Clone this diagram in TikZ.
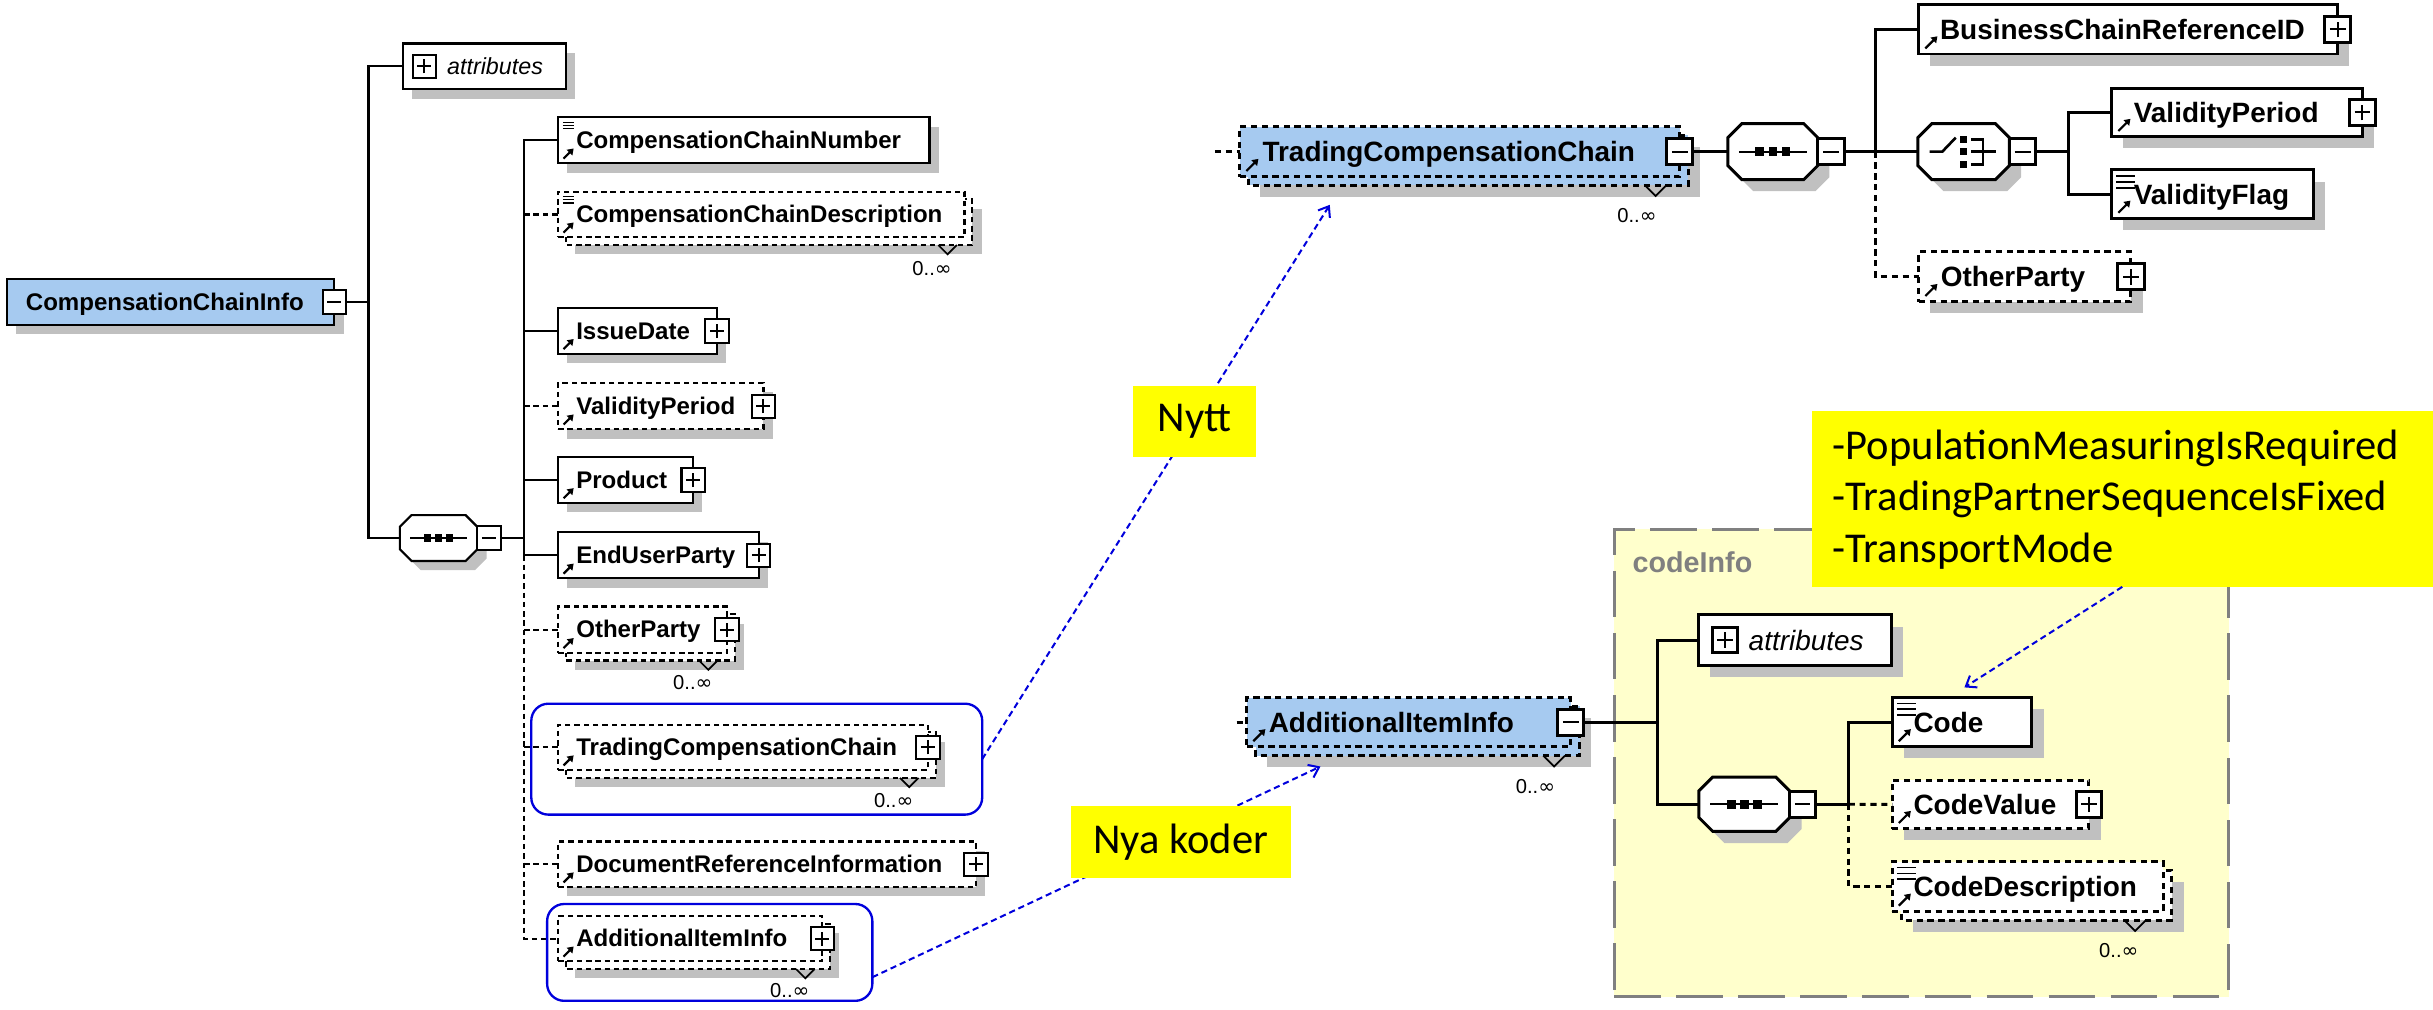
\documentclass[tikz,border=0pt]{standalone}
\usepackage{fontspec}
\setmainfont{Liberation Sans}
\newfontfamily\calib{Carlito}
\newfontfamily\djv{DejaVu Sans}
\usetikzlibrary{arrows.meta}
\definecolor{selblue}{RGB}{166,202,240}
\definecolor{shadowc}{RGB}{192,192,192}
\definecolor{codebg}{RGB}{255,255,204}
\definecolor{codeborder}{RGB}{128,128,128}
\definecolor{noteblue}{RGB}{0,0,220}
\definecolor{noteyellow}{RGB}{255,255,0}
\def\XSh{6}
\newcommand{\XEl}[7]{%
  \ifdim #7pt>0pt
    \fill[shadowc] ({#2+#7+\XSh},{#3+#7+\XSh}) rectangle ({#4+#7+\XSh},{#5+#7+\XSh});
    \path[#6] ({#2+#7},{#3+#7}) rectangle ({#4+#7},{#5+#7});
  \else
    \fill[shadowc] ({#2+\XSh},{#3+\XSh}) rectangle ({#4+\XSh},{#5+\XSh});
  \fi
  \node[#6, elnode, minimum width={(#4-#2)*1pt}, minimum height={(#5-#3)*1pt}, anchor=north west] (#1) at (#2,#3) {};}
\newcommand{\XTx}[5]{\node[#3, anchor=base west, inner sep=0pt] (#1-t) at ([xshift=#2pt,yshift={-(#5)*1pt}]#1.west) {#4};}
\newcommand{\XRef}[2]{\draw[reficon] ([shift={({3.5*#2},{-3*#2})}]#1.south west) -- ++({6.5*#2},{-6.5*#2});}
\newcommand{\XTy}[5]{\foreach \k in {0,1,2}{\draw[line width=#4pt] ([shift={(3,{#5+#3*\k})}]#1.north west) -- ++(#2,0);}}
\newcommand{\XPm}[5]{%
  \node[pmbox,#5,minimum size=#2pt,anchor=#3] (#1-pm) at (#1.east) {};
  \draw[line width=1.3pt] ([xshift={-0.3*#2}]#1-pm.center) -- ([xshift={0.3*#2}]#1-pm.center);
  \ifnum#4=1 \draw[line width=1.3pt] ([yshift={-0.3*#2}]#1-pm.center) -- ([yshift={0.3*#2}]#1-pm.center);\fi}
\newcommand{\XOct}[6]{\path[#6] ({#1+#5},#2) -- ({#3-#5},#2) -- (#3,{#2+#5}) -- (#3,{#4-#5}) -- ({#3-#5},#4) -- ({#1+#5},#4) -- (#1,{#4-#5}) -- (#1,{#2+#5}) -- cycle;}
\newcommand{\XSeq}[7]{%
  \begin{scope}[shift={(\XSh,\XSh)}]\XOct{#2}{#3}{#4}{#5}{7.5*#6}{fill=shadowc}\end{scope}
  \XOct{#2}{#3}{#4}{#5}{7.5*#6}{#7}
  \node[elnode,minimum width={(#4-#2)*1pt},minimum height={(#5-#3)*1pt},anchor=north west] (#1) at (#2,#3) {};}
\newcommand{\XSeqSym}[2]{%
  \draw[line width=1.4pt] ([xshift={-18.2*#2}]#1.center) -- ([xshift={18.2*#2}]#1.center);
  \foreach \k in {-1,0,1}{\fill ([xshift={(7*\k-2.3)*#2},yshift={-2.3*#2}]#1.center) rectangle ++({4.6*#2},{-4.6*#2});}}
\newcommand{\XMul}[6]{%
  \draw[line width=1.1pt] ({#2-#4},#3) -- (#2,{#3+#4}) -- ({#2+#4},#3);
  \node[multt] (#1) at ({#2+#5},{#3+#6}) {0..{\djv ∞}};}
\begin{document}
\begin{tikzpicture}[x=1pt,y=-1pt,
  elsolid/.style={draw=black, line width=1.4pt, fill=white},
  eldash/.style={elsolid, dash pattern=on 3.5pt off 2.5pt},
  selfill/.style={fill=selblue},
  rw/.style={line width=1.9pt},
  rdash/.style={dash pattern=on 4pt off 3pt},
  elnode/.style={inner sep=0pt, outer sep=0pt},
  pmbox/.style={draw=black, fill=white, line width=1.3pt, inner sep=0pt, outer sep=0pt},
  conn/.style={draw=black, line width=1.4pt},
  optconn/.style={conn, dash pattern=on 3.5pt off 2.5pt},
  lt/.style={font=\bfseries\fontsize{15.5}{18}\selectfont},
  rt/.style={font=\bfseries\fontsize{18}{22}\selectfont},
  lti/.style={font=\itshape\fontsize{15}{18}\selectfont},
  rti/.style={font=\itshape\fontsize{18}{22}\selectfont},
  multt/.style={font=\fontsize{13}{15}\selectfont, inner sep=0pt},
  reficon/.style={draw=black, line width=1.4pt, -{Triangle[length=3.8pt,width=5pt]}},
  noterect/.style={draw=noteblue, line width=1.5pt, rounded corners=11pt, inner sep=0pt, outer sep=0pt},
  notearrow/.style={draw=noteblue, line width=1.3pt, dash pattern=on 4pt off 2.5pt, -{Straight Barb[length=6pt,width=9pt]}},
  notebox/.style={fill=noteyellow, inner sep=0pt, outer sep=0pt},
  notet/.style={font=\calib\fontsize{27.4}{33.4}\selectfont},
  codebox/.style={fill=codebg, draw=codeborder, line width=2pt, dash pattern=on 30pt off 10pt, inner sep=0pt, outer sep=0pt}
]
\useasboundingbox (0,0) rectangle (1568,650.3);
\fill[white] (0,0) rectangle (1568,650.3);

% ---------- codeInfo background ----------
\node[codebox, minimum width=395.9pt, minimum height=301.3pt, anchor=north west] (cinfo) at (1040.3,341) {};
\node[font=\bfseries\fontsize{18.5}{22}\selectfont, text=codeborder, anchor=base west, inner sep=0pt] (cinfo-t) at (1052,369) {codeInfo};

% ---------- LEFT TREE ----------
\def\XSh{6}
\XEl{cci}{4.5}{180}{215.5}{209.4}{elsolid,selfill}{0}
\XTx{cci}{12}{lt}{CompensationChainInfo}{5.3}
\XPm{cci}{15}{center}{0}{}

\XEl{attr}{259.5}{28}{364.5}{57.5}{elsolid}{0}
\node[pmbox, minimum size=15pt] (attr-pm) at (273.5,42.75) {};
\draw[line width=1.3pt] ([xshift=-4.5pt]attr-pm.center) -- ([xshift=4.5pt]attr-pm.center);
\draw[line width=1.3pt] ([yshift=-4.5pt]attr-pm.center) -- ([yshift=4.5pt]attr-pm.center);
\XTx{attr}{28.5}{lti}{attributes}{5.3}

\XSeq{seq1}{257.7}{332}{307.6}{361.5}{1}{elsolid}
\XSeqSym{seq1}{1}
\XPm{seq1}{15}{west}{0}{}

\XEl{ccn}{359.7}{75.6}{599}{105.2}{elsolid}{0}
\XTx{ccn}{11.5}{lt}{CompensationChainNumber}{5.3}
\XRef{ccn}{1}\XTy{ccn}{7}{2}{0.8}{3.3}

\XEl{ccd}{359.7}{123.5}{621.6}{152.9}{eldash}{5}
\XTx{ccd}{11.5}{lt}{CompensationChainDescription}{5.3}
\XRef{ccd}{1}\XTy{ccd}{7}{2}{0.8}{3.3}
\XMul{ccd-m}{610.7}{157.9}{6}{-10}{15}

\XEl{isd}{359.7}{198.7}{462}{228}{elsolid}{0}
\XTx{isd}{11.5}{lt}{IssueDate}{5.3}
\XRef{isd}{1}\XPm{isd}{15}{center}{1}{}

\XEl{vpl}{359.7}{246.9}{492}{276.6}{eldash}{0}
\XTx{vpl}{11.5}{lt}{ValidityPeriod}{5.3}
\XRef{vpl}{1}\XPm{vpl}{15}{center}{1}{}

\XEl{prd}{359.7}{294.7}{446.7}{324.1}{elsolid}{0}
\XTx{prd}{11.5}{lt}{Product}{5.3}
\XRef{prd}{1}\XPm{prd}{15}{center}{1}{}

\XEl{eup}{359.7}{343}{489}{372.7}{elsolid}{0}
\XTx{eup}{11.5}{lt}{EndUserParty}{5.3}
\XRef{eup}{1}\XPm{eup}{15}{center}{1}{}

\XEl{opl}{359.7}{390.9}{468.5}{420.7}{eldash}{5}
\XTx{opl}{11.5}{lt}{OtherParty}{5.3}
\XRef{opl}{1}\XPm{opl}{15}{center}{1}{}
\XMul{opl-m}{456.5}{425.7}{6}{-10}{14.5}

\XEl{tccl}{359.7}{467}{598}{496.3}{eldash}{5}
\XTx{tccl}{11.5}{lt}{TradingCompensationChain}{5.3}
\XRef{tccl}{1}\XPm{tccl}{15}{center}{1}{}
\XMul{tccl-m}{586}{501.3}{6}{-10}{14.5}

\XEl{dri}{359.7}{542.3}{629}{571.7}{eldash}{0}
\XTx{dri}{11.5}{lt}{DocumentReferenceInformation}{5.3}
\XRef{dri}{1}\XPm{dri}{15}{center}{1}{}

\XEl{aiil}{359.7}{590.4}{530}{619.5}{eldash}{5}
\XTx{aiil}{11.5}{lt}{AdditionalItemInfo}{5.3}
\XRef{aiil}{1}\XPm{aiil}{15}{center}{1}{}
\XMul{aiil-m}{519}{624.5}{6}{-10}{14}

% left connectors
\coordinate (jA) at (237.5,0);
\draw[conn] (cci-pm.east) -- (cci-pm.east -| jA);
\draw[conn] (attr.west) -| (seq1.west -| jA) -- (seq1.west);
\coordinate (jB) at (337.8,0);
\draw[conn] (seq1-pm.east) -- (seq1-pm.east -| jB);
\draw[conn] (ccn.west) -| (eup.west -| jB) -- (eup.west);
\draw[optconn] (eup.west -| jB) |- (aiil.west);
\foreach \n in {isd,prd} \draw[conn] (\n.west -| jB) -- (\n.west);
\foreach \n in {ccd,vpl,opl,tccl,dri} \draw[optconn] (\n.west -| jB) -- (\n.west);

% highlight rectangles
\node[noterect, minimum width=290.6pt, minimum height=71.5pt, anchor=north west] (r1) at (342.4,453.5) {};
\node[noterect, minimum width=209.6pt, minimum height=62.4pt, anchor=north west] (r2) at (352.6,582.6) {};

% ---------- RIGHT TOP ----------
\def\XSh{7.5}
\XEl{tccr}{799}{81.6}{1082.5}{113.8}{eldash,selfill,rw,rdash}{5.5}
\XTx{tccr}{14.5}{rt}{TradingCompensationChain}{6.5}
\XRef{tccr}{1.2}\XPm{tccr}{17}{center}{0}{rw}
\XMul{tccr-m}{1067}{119.3}{7}{-12}{19.7}

\XSeq{seqr}{1113.5}{79.7}{1171.5}{115.7}{1.2}{elsolid,rw}
\XSeqSym{seqr}{1.2}
\XPm{seqr}{17}{west}{0}{rw}

\XSeq{chc}{1236}{79.7}{1295}{115.7}{1.2}{elsolid,rw}
\draw[line width=1.7pt] ([shift={(-21.9,0)}]chc.center) -- ([shift={(-13.7,0)}]chc.center) -- ([shift={(-5.1,-9)}]chc.center);
\foreach \yy in {-8,0,8.5}{\fill ([shift={(-2.3,\yy-2.3)}]chc.center) rectangle ([shift={(2.3,\yy+2.3)}]chc.center);}
\draw[line width=1.7pt] ([shift={(5,-8)}]chc.center) -- ([shift={(12.5,-8)}]chc.center) -- ([shift={(12.5,8.5)}]chc.center) -- ([shift={(5,8.5)}]chc.center);
\draw[line width=1.7pt] ([shift={(5,0)}]chc.center) -- ([shift={(21,0)}]chc.center);
\XPm{chc}{17}{west}{0}{rw}

\XEl{bcr}{1236.6}{3.2}{1506.6}{34.8}{elsolid,rw}{0}
\XTx{bcr}{13.5}{rt}{BusinessChainReferenceID}{6.5}
\XRef{bcr}{1.2}\XPm{bcr}{17}{center}{1}{rw}

\XEl{vpr}{1361}{56.9}{1522.5}{88}{elsolid,rw}{0}
\XTx{vpr}{14}{rt}{ValidityPeriod}{6.5}
\XRef{vpr}{1.2}\XPm{vpr}{17}{center}{1}{rw}

\XEl{vfl}{1361}{109.5}{1491}{140.7}{elsolid,rw}{0}
\XTx{vfl}{14}{rt}{ValidityFlag}{6.5}
\XRef{vfl}{1.2}\XTy{vfl}{12}{3.8}{1.2}{3.8}

\XEl{opr}{1236.6}{162.2}{1373.3}{194.4}{eldash,rw,rdash}{0}
\XTx{opr}{14}{rt}{OtherParty}{6.5}
\XRef{opr}{1.2}\XPm{opr}{17}{center}{1}{rw}

% right top connectors
\coordinate (s1) at (783,97.7);
\draw[optconn,rw,rdash] (s1) -- (tccr.west);
\draw[conn,rw] (tccr-pm.east) -- (seqr.west);
\draw[conn,rw] (seqr-pm.east) -- (chc.west);
\coordinate (jC) at (1208.8,0);
\draw[conn,rw] (bcr.west) -| (chc.west -| jC);
\draw[optconn,rw,rdash] (chc.west -| jC) |- (opr.west);
\coordinate (jD) at (1333,0);
\draw[conn,rw] (chc-pm.east) -- (chc-pm.east -| jD);
\draw[conn,rw] (vpr.west) -| (vfl.west -| jD) -- (vfl.west);

% ---------- RIGHT BOTTOM ----------
\XEl{aiir}{803.5}{449.6}{1012.3}{481.3}{eldash,selfill,rw,rdash}{5.7}
\XTx{aiir}{14}{rt}{AdditionalItemInfo}{6.5}
\XRef{aiir}{1.2}\XPm{aiir}{17}{center}{0}{rw}
\XMul{aiir-m}{1001.6}{487}{7}{-12}{19.6}

\XEl{attrr}{1094.8}{396.3}{1219}{428.8}{elsolid,rw}{0}
\node[pmbox, rw, minimum size=16.5pt] (attrr-pm) at (1111.7,412.55) {};
\draw[line width=1.3pt] ([xshift=-5pt]attrr-pm.center) -- ([xshift=5pt]attrr-pm.center);
\draw[line width=1.3pt] ([yshift=-5pt]attrr-pm.center) -- ([yshift=5pt]attrr-pm.center);
\XTx{attrr}{32}{rti}{attributes}{6.5}

\XSeq{seq2}{1094.8}{500.8}{1153.5}{535.8}{1.2}{elsolid,rw}
\XSeqSym{seq2}{1.2}
\XPm{seq2}{16.5}{west}{0}{rw}

\XEl{code}{1219.5}{449.6}{1309.5}{481.3}{elsolid,rw}{0}
\XTx{code}{13.5}{rt}{Code}{6.5}
\XRef{code}{1.2}\XTy{code}{12}{3.8}{1.2}{3.8}

\XEl{cval}{1219.5}{502.8}{1346.2}{534}{eldash,rw,rdash}{0}
\XTx{cval}{13.5}{rt}{CodeValue}{6.5}
\XRef{cval}{1.2}\XPm{cval}{16.5}{center}{1}{rw}

\XEl{cdes}{1219.5}{555.3}{1394}{587.3}{eldash,rw,rdash}{5.7}
\XTx{cdes}{13.5}{rt}{CodeDescription}{6.5}
\XRef{cdes}{1.2}\XTy{cdes}{12}{3.8}{1.2}{3.8}
\XMul{cdes-m}{1376}{593}{7}{-10.5}{19.5}

% right bottom connectors
\coordinate (s2) at (797,465.45);
\draw[optconn,rw,rdash] (s2) -- (aiir.west);
\coordinate (jE) at (1068.4,0);
\draw[conn,rw] (aiir-pm.east) -- (aiir-pm.east -| jE);
\draw[conn,rw] (attrr.west) -| (seq2.west -| jE) -- (seq2.west);
\coordinate (jF) at (1191.4,0);
\draw[conn,rw] (seq2-pm.east) -- (seq2-pm.east -| jF);
\draw[conn,rw] (code.west) -| (seq2-pm.east -| jF);
\draw[optconn,rw,rdash] (seq2-pm.east -| jF) -- (cval.west);
\draw[optconn,rw,rdash] (seq2-pm.east -| jF) |- (cdes.west);

% ---------- NOTES ----------
\coordinate (t1) at (857,132);
\draw[notearrow] (r1.east) -- (t1);
\coordinate (a2s) at ([yshift=-16pt]r2.east);
\coordinate (t2) at (851,494);
\draw[notearrow] (a2s) -- (t2);

\node[notebox, notet, minimum width=79.7pt, minimum height=45.9pt, anchor=north west] (nytt) at (730,248.8) {Nytt};
\node[notebox, notet, minimum width=142pt, minimum height=46.3pt, anchor=north west] (nya) at (690,519.4) {Nya koder};
\node[notebox, minimum width=400.5pt, minimum height=113.2pt, anchor=north west] (note3) at (1167.5,265) {};
\node[notet, align=left, anchor=west, inner sep=0pt] (note3-t) at (1181,322) {-PopulationMeasuringIsRequired\\-TradingPartnerSequenceIsFixed\\-TransportMode};
\coordinate (t3) at (1266,443);
\draw[notearrow] (note3.south) -- (t3);
\end{tikzpicture}
\end{document}
